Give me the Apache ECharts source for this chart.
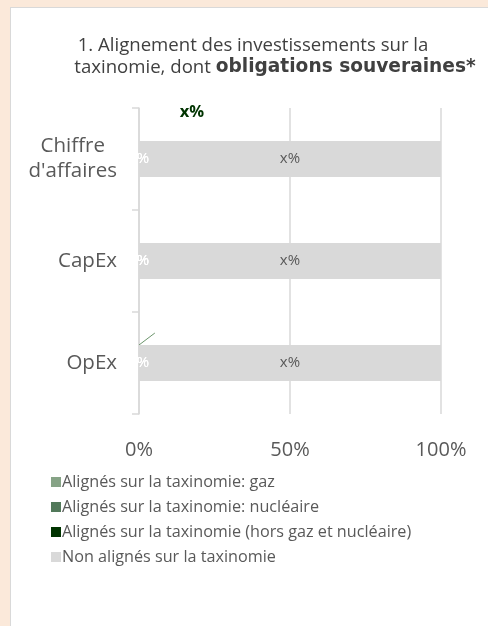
<!DOCTYPE html>
<html>
<head>
<meta charset="utf-8">
<script src="https://cdn.jsdelivr.net/npm/echarts@6/dist/echarts.min.js"></script>
<style>
  html, body { margin: 0; padding: 0; background: #FBE9DA; }
  #panel { position: absolute; left: 10px; top: 7px; width: 490px; height: 640px; background: #fff; border: 1.5px solid #D9D9D9; box-sizing: border-box; }
  #chart { position: absolute; left: 0; top: 0; width: 488px; height: 626px; }
</style>
</head>
<body>
<div id="panel"></div>
<div id="chart"></div>
<script>
const categories = ["Chiffre d'affaires", "CapEx", "OpEx"];
const seriesNames = [
  "Alignés sur la taxinomie: gaz",
  "Alignés sur la taxinomie: nucléaire",
  "Alignés sur la taxinomie (hors gaz et nucléaire)",
  "Non alignés sur la taxinomie"
];
const gazValues = [0, 0, 0];
const nucleaireValues = [0, 0, 0];
const alignesValues = [0, 0, 0];
const nonAlignesValues = [100, 100, 100];
const gazLabels = ["x%", "x%", "x%"];
const nucleaireLabels = ["x%", "x%", "x%"];
const alignesLabels = ["x%", "x%", "x%"];
const nonAlignesLabels = ["x%", "x%", "x%"];
const xTicks = [0, 50, 100];
const titleLine1 = "1. Alignement des investissements sur la";
const titleLine2a = "taxinomie, dont ";
const titleLine2b = "obligations souveraines*";

const FONT = 'Open Sans';
const BOLD_FONT = 'DejaVu Sans';
const colors = ['#86A386', '#52795A', '#003300', '#D9D9D9'];
const TITLE_SIZE = 18.6;
const CAT_SIZE = 20.5;
const TICK_SIZE = 20;
const LEG_SIZE = 16.2;
const LAB_SIZE = 15;

const chart = echarts.init(document.getElementById('chart'), null, { renderer: 'canvas' });

function mkSeries(idx, values, labels, labelOpts) {
  return {
    name: seriesNames[idx],
    type: 'bar',
    stack: 'total',
    barWidth: 36,
    itemStyle: { color: colors[idx] },
    data: values.map((v, i) => {
      const item = { value: v };
      const lo = labelOpts(i);
      item.label = Object.assign({ show: true, formatter: () => labels[i], fontFamily: FONT }, lo.label);
      if (lo.labelLine) item.labelLine = lo.labelLine;
      return item;
    })
  };
}

const whiteLab = (ox) => ({ label: { position: 'inside', color: '#ffffff', fontSize: LAB_SIZE, offset: [ox, 0] } });

const option = {
  backgroundColor: 'transparent',
  animation: false,
  textStyle: { fontFamily: FONT },
  title: [
    { text: titleLine1, left: 253, top: 36, textAlign: 'center', padding: 0,
      textStyle: { fontFamily: FONT, fontSize: TITLE_SIZE, fontWeight: 'normal', color: '#404040' } },
    { text: '{n|' + titleLine2a + '}{b|' + titleLine2b + '}', left: 275, top: 58, textAlign: 'center', padding: 0,
      textStyle: { fontFamily: FONT, fontSize: TITLE_SIZE, fontWeight: 'normal', color: '#404040',
        rich: { n: { fontFamily: FONT, fontSize: TITLE_SIZE, fontWeight: 'normal', color: '#404040' },
                b: { fontFamily: BOLD_FONT, fontSize: 18.6, fontWeight: 'bold', color: '#404040' } } } }
  ],
  legend: {
    orient: 'vertical', left: 46, top: 469,
    itemWidth: 10, itemHeight: 10, itemGap: 9, icon: 'rect',
    data: seriesNames,
    textStyle: { fontFamily: FONT, fontSize: LEG_SIZE, color: '#595959', padding: [0, 0, 0, -4] }
  },
  grid: { left: 139, right: 47, top: 108, bottom: 212, containLabel: false },
  xAxis: {
    type: 'value', min: 0, max: 100, interval: 50,
    axisLine: { show: false }, axisTick: { show: false },
    splitLine: { show: true, lineStyle: { color: '#D9D9D9', width: 1.5 } },
    axisLabel: { formatter: (v) => xTicks.includes(v) ? v + '%' : '', margin: 26, fontFamily: FONT, fontSize: TICK_SIZE, color: '#595959' }
  },
  yAxis: {
    type: 'category', inverse: true, data: categories,
    axisLine: { show: true, lineStyle: { color: '#D9D9D9', width: 1.5 } },
    axisTick: { show: true, length: 7, lineStyle: { color: '#D9D9D9', width: 1.5 } },
    axisLabel: {
      margin: 22, fontFamily: FONT, fontSize: CAT_SIZE, color: '#595959', lineHeight: 25,
      formatter: (v) => {
        const parts = v.split(' ');
        if (parts.length > 1) return '{c|' + parts[0] + '}\n{c|' + parts.slice(1).join(' ') + '}';
        return '{c|' + v + '}';
      },
      rich: { c: { align: 'center', fontFamily: FONT, fontSize: CAT_SIZE, color: '#595959', lineHeight: 25 } }
    }
  },
  labelLayout: function (p) {
    if (p.seriesIndex === 2 && p.dataIndex === 0) return { dx: 53, dy: -47 };
    if (p.seriesIndex === 2 && p.dataIndex === 2) return { dx: 26, dy: -30 };
    return {};
  },
  series: [
    mkSeries(0, gazValues, gazLabels, (i) => whiteLab([5, 7, 2][i])),
    mkSeries(1, nucleaireValues, nucleaireLabels, (i) => whiteLab([5, 2, 2][i])),
    mkSeries(2, alignesValues, alignesLabels, (i) => {
      if (i === 0) return { label: { position: 'inside', color: '#003300', fontWeight: 'bold', fontSize: 16.5 } };
      if (i === 2) return { label: { position: 'inside', color: '#ffffff', fontSize: LAB_SIZE },
                            labelLine: { show: true, lineStyle: { color: '#6B946B', width: 1 } } };
      return whiteLab(4);
    }),
    mkSeries(3, nonAlignesValues, nonAlignesLabels, () => ({ label: { position: 'inside', color: '#595959', fontSize: LAB_SIZE } }))
  ]
};
chart.setOption(option);
</script>
</body>
</html>
